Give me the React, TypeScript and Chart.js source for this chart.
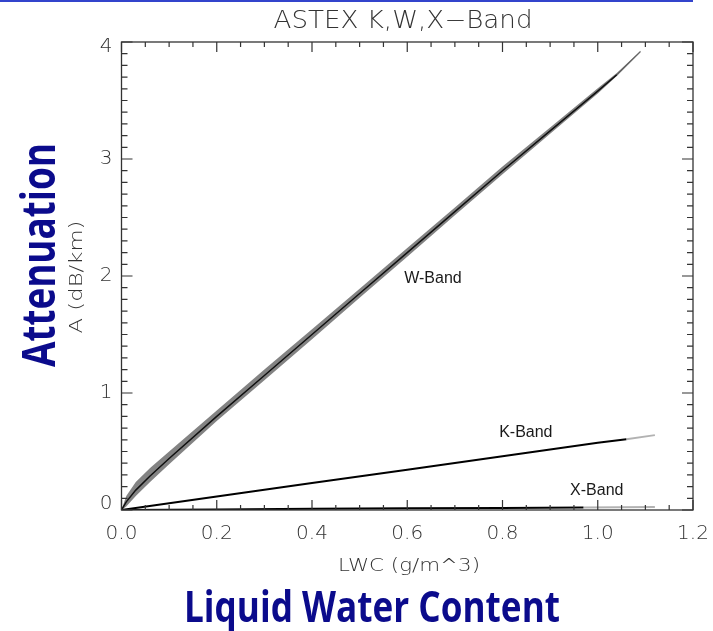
import React, { useEffect, useRef } from "react";
import { Chart, registerables } from "chart.js";

Chart.register(...registerables);

const CW = 713;
const CH = 631;

// Axis ticks
const xTickValues = [0, 0.2, 0.4, 0.6, 0.8, 1.0, 1.2];
const yTickValues = [0, 1, 2, 3, 4];

// W-Band (scatter band: centre, upper and lower edges)
const wLwc = [0, 0.01, 0.03, 0.06, 0.1, 0.2, 0.3, 0.4, 0.5, 0.6, 0.7, 0.8, 0.9, 1.0, 1.04, 1.09];
const wCenter = [0, 0.07, 0.17, 0.29, 0.44, 0.8, 1.15, 1.5, 1.85, 2.2, 2.55, 2.9, 3.24, 3.58, 3.72, 3.92];
const wUpper = [0, 0.12, 0.24, 0.36, 0.5, 0.85, 1.2, 1.545, 1.89, 2.24, 2.585, 2.935, 3.27, 3.605, 3.735, 3.925];
const wLower = [0, 0.03, 0.12, 0.24, 0.39, 0.76, 1.11, 1.46, 1.815, 2.165, 2.52, 2.87, 3.215, 3.56, 3.71, 3.915];

// K-Band
const kLwc = [0, 0.2, 0.4, 0.6, 0.8, 1.0, 1.06, 1.12];
const kAtt = [0, 0.115, 0.23, 0.345, 0.46, 0.575, 0.605, 0.64];

// X-Band
const xLwc = [0, 0.2, 0.4, 0.6, 0.8, 0.97, 1.12];
const xAtt = [0, 0.005, 0.01, 0.014, 0.018, 0.022, 0.025];

// In-plot labels (data coordinates)
const bandNames = ["W-Band", "K-Band", "X-Band"];
const bandLabelLwc = [0.654, 0.849, 0.998];
const bandLabelAtt = [1.98, 0.66, 0.163];

const pts = (xs: number[], ys: number[]) => xs.map((x, i) => ({ x, y: ys[i] }));

function fitText(
  ctx: CanvasRenderingContext2D,
  text: string,
  x: number,
  y: number,
  width: number,
  font: string,
  color: string,
  rot = 0
) {
  ctx.save();
  ctx.font = font;
  ctx.fillStyle = color;
  ctx.textAlign = "center";
  ctx.textBaseline = "alphabetic";
  const m = ctx.measureText(text).width;
  ctx.translate(x, y);
  ctx.rotate(rot);
  ctx.scale(width / m, 1);
  ctx.fillText(text, 0, 0);
  ctx.restore();
}

const decorPlugin = {
  id: "decor",
  afterDatasetsDraw(chart: any) {
    const { ctx, chartArea: a, scales } = chart;
    const xs = scales.x;
    const ys = scales.y;
    ctx.save();
    ctx.strokeStyle = "#333";
    ctx.lineWidth = 1.3;
    ctx.strokeRect(a.left, a.top, a.right - a.left, a.bottom - a.top);
    ctx.lineWidth = 1.2;
    ctx.beginPath();
    for (let i = 0; i <= 24; i++) {
      const px = xs.getPixelForValue(i * 0.05);
      const len = i % 4 === 0 ? 10 : 5;
      ctx.moveTo(px, a.bottom);
      ctx.lineTo(px, a.bottom - len);
      ctx.moveTo(px, a.top);
      ctx.lineTo(px, a.top + len);
    }
    for (let i = 0; i <= 40; i++) {
      const py = ys.getPixelForValue(i * 0.1);
      const len = i % 10 === 0 ? 11 : 6;
      ctx.moveTo(a.left, py);
      ctx.lineTo(a.left + len, py);
      ctx.moveTo(a.right, py);
      ctx.lineTo(a.right - len, py);
    }
    ctx.stroke();

    // y tick labels (end labels nudged inward, as in the original plot)
    ctx.font = "300 20px 'DejaVu Sans', sans-serif";
    ctx.fillStyle = "#333";
    ctx.textAlign = "right";
    ctx.textBaseline = "middle";
    yTickValues.forEach((v, i) => {
      let py = ys.getPixelForValue(v);
      if (i === 0) py -= 6;
      if (i === yTickValues.length - 1) py += 5;
      ctx.fillText(String(v), a.left - 9, py);
    });

    ctx.font = "16px 'Liberation Sans', Arial, sans-serif";
    ctx.fillStyle = "#1a1a1a";
    ctx.textAlign = "center";
    ctx.textBaseline = "middle";
    bandNames.forEach((n, i) => {
      ctx.fillText(n, xs.getPixelForValue(bandLabelLwc[i]), ys.getPixelForValue(bandLabelAtt[i]));
    });
    ctx.restore();
  },
  afterDraw(chart: any) {
    const { ctx } = chart;
    ctx.save();
    ctx.fillStyle = "#3344cc";
    ctx.fillRect(0, 0, 693, 2);
    ctx.restore();
    fitText(ctx, "ASTEX K,W,X\u2212Band", 403, 28, 259, "300 24px 'DejaVu Sans', sans-serif", "#333");
    fitText(ctx, "LWC (g/m^3)", 409, 571, 142, "300 18px 'DejaVu Sans', sans-serif", "#333");
    fitText(ctx, "A (dB/km)", 82, 277, 113, "300 18px 'DejaVu Sans', sans-serif", "#333", -Math.PI / 2);
    fitText(ctx, "Liquid Water Content", 372, 622, 376, "bold 43px 'Open Sans', sans-serif", "#0b0b8c");
    fitText(ctx, "Attenuation", 55, 255, 224, "bold 46px 'Open Sans', sans-serif", "#0b0b8c", -Math.PI / 2);
  },
};

const faint = (thr: number, solid: string) => (c: any) =>
  c.p0.parsed.x >= thr ? "rgba(0,0,0,0.3)" : solid;

export default function App() {
  const ref = useRef<HTMLCanvasElement | null>(null);
  useEffect(() => {
    if (!ref.current) return;
    const chart = new Chart(ref.current, {
      type: "line",
      data: {
        datasets: [
          {
            label: "W upper",
            data: pts(wLwc, wUpper),
            borderWidth: 0,
            borderColor: "rgba(0,0,0,0)",
            backgroundColor: "rgba(30,30,30,0.55)",
            pointRadius: 0,
            fill: "+1",
            tension: 0,
          },
          {
            label: "W lower",
            data: pts(wLwc, wLower),
            borderWidth: 0,
            borderColor: "rgba(0,0,0,0)",
            pointRadius: 0,
            fill: false,
            tension: 0,
          },
          {
            label: "W-Band",
            data: pts(wLwc, wCenter),
            borderColor: "#000",
            borderWidth: 1.5,
            pointRadius: 0,
            fill: false,
            segment: { borderColor: faint(1.04, "#000") },
          },
          {
            label: "K-Band",
            data: pts(kLwc, kAtt),
            borderColor: "#000",
            borderWidth: 2,
            pointRadius: 0,
            fill: false,
            segment: { borderColor: faint(1.06, "#000") },
          },
          {
            label: "X-Band",
            data: pts(xLwc, xAtt),
            borderColor: "#000",
            borderWidth: 2,
            pointRadius: 0,
            fill: false,
            segment: { borderColor: faint(0.97, "#000") },
          },
        ],
      },
      options: {
        responsive: false,
        animation: false,
        events: [],
        layout: { padding: { left: 0, top: 42, right: 20, bottom: 0 } },
        plugins: { legend: { display: false }, tooltip: { enabled: false }, title: { display: false } },
        scales: {
          x: {
            type: "linear",
            min: 0,
            max: 1.2,
            afterFit: (s: any) => {
              s.height = 121;
              s.paddingRight = 0;
              s.paddingLeft = 0;
            },
            afterBuildTicks: (s: any) => {
              s.ticks = xTickValues.map((v) => ({ value: v }));
            },
            grid: { display: false, drawTicks: false },
            border: { display: false },
            ticks: {
              padding: 12,
              color: "#333",
              font: { family: "'DejaVu Sans', sans-serif", size: 20, weight: "300" },
              callback: (v: any) => Number(v).toFixed(1),
              maxRotation: 0,
              autoSkip: false,
            },
          },
          y: {
            type: "linear",
            min: 0,
            max: 4,
            afterFit: (s: any) => {
              s.width = 121.5;
              s.paddingTop = 0;
              s.paddingBottom = 0;
            },
            afterBuildTicks: (s: any) => {
              s.ticks = yTickValues.map((v) => ({ value: v }));
            },
            grid: { display: false, drawTicks: false },
            border: { display: false },
            ticks: { display: false },
          },
        },
      },
      plugins: [decorPlugin],
    } as any);
    return () => chart.destroy();
  }, []);
  return (
    <div style={{ position: "absolute", left: 0, top: 0, width: CW, height: CH, background: "#fff" }}>
      <canvas ref={ref} width={CW} height={CH} style={{ display: "block", width: CW, height: CH }} />
    </div>
  );
}
